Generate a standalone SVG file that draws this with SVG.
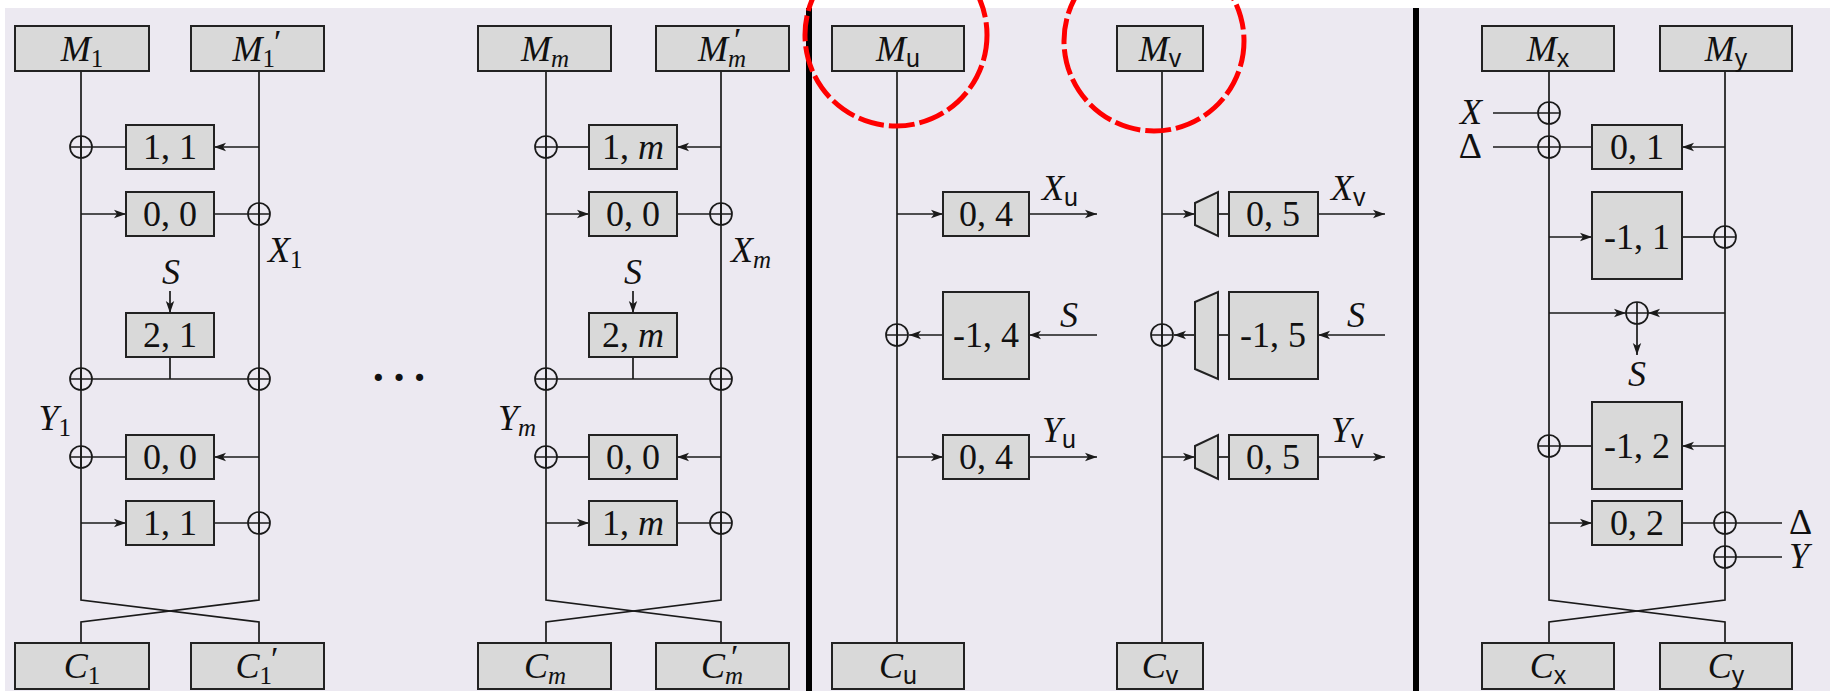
<svg xmlns="http://www.w3.org/2000/svg" width="1830" height="691" viewBox="0 0 1830 691">
<style>
.box{fill:#D9D9D9;stroke:#222;stroke-width:2}
.ln{fill:none;stroke:#1a1a1a;stroke-width:1.7}
.ar{fill:none;stroke:#1a1a1a;stroke-width:1.7;marker-end:url(#arr)}
.xo{fill:none;stroke:#1a1a1a;stroke-width:1.7}
.trap{fill:#D9D9D9;stroke:#222;stroke-width:2}
.t{font-family:"Liberation Serif","DejaVu Serif",serif;font-size:36px;fill:#111}
.m{text-anchor:middle}
.e{text-anchor:end}
.it{font-style:italic}
.sub{font-size:25px}
.pr{font-size:34px}
.sf{font-family:"Liberation Sans","DejaVu Sans",sans-serif;font-style:normal}
.sep{fill:#000}
.red{fill:none;stroke:#FF0000;stroke-width:5;stroke-dasharray:26 5}
</style>
<defs>
<marker id="arr" viewBox="0 0 12 10" refX="12" refY="5" markerWidth="12" markerHeight="10" markerUnits="userSpaceOnUse" orient="auto">
<path d="M0,0.8 L12,5 L0,9.2 L3,5 z" fill="#1a1a1a"/>
</marker>
<g id="xor"><circle r="11" class="xo"/><path class="xo" d="M-11,0H11M0,-11V11"/></g>
</defs>
<rect x="5" y="8" width="1825" height="683" fill="#ECE9F1"/>

<!-- separators -->
<rect class="sep" x="806" y="8" width="6" height="683"/>
<rect class="sep" x="1413" y="8" width="6" height="683"/>

<!-- connectors -->
<g id="connectors">
<!-- panel 1 -->
<path class="ln" d="M81,71 V600 L259,622 V643"/>
<path class="ln" d="M259,71 V600 L81,622 V643"/>
<path class="ln" d="M92,147 H126"/>
<path class="ar" d="M259,147 H214"/>
<path class="ar" d="M81,214 H126"/>
<path class="ln" d="M214,214 H248"/>
<path class="ar" d="M170,291 V313"/>
<path class="ln" d="M170,357 V379 M92,379 H248"/>
<path class="ln" d="M92,457 H126"/>
<path class="ar" d="M259,457 H214"/>
<path class="ar" d="M81,523 H126"/>
<path class="ln" d="M214,523 H248"/>
<!-- panel 2 -->
<path class="ln" d="M546,71 V600 L721,622 V643"/>
<path class="ln" d="M721,71 V600 L546,622 V643"/>
<path class="ln" d="M557,147 H589"/>
<path class="ar" d="M721,147 H677"/>
<path class="ar" d="M546,214 H589"/>
<path class="ln" d="M677,214 H710"/>
<path class="ar" d="M633,291 V313"/>
<path class="ln" d="M633,357 V379 M557,379 H710"/>
<path class="ln" d="M557,457 H589"/>
<path class="ar" d="M721,457 H677"/>
<path class="ar" d="M546,523 H589"/>
<path class="ln" d="M677,523 H710"/>
<!-- panel 3 -->
<path class="ln" d="M897,71 V643"/>
<path class="ln" d="M1162,71 V643"/>
<path class="ar" d="M897,214 H943"/>
<path class="ar" d="M1029,214 H1097"/>
<path class="ar" d="M943,335 H909"/>
<path class="ar" d="M1097,335 H1029"/>
<path class="ar" d="M897,457 H943"/>
<path class="ar" d="M1029,457 H1097"/>
<path class="ar" d="M1162,214 H1195"/>
<path class="ln" d="M1218,214 H1229"/>
<path class="ar" d="M1318,214 H1385"/>
<path class="ar" d="M1195,335 H1174"/>
<path class="ln" d="M1218,335 H1229"/>
<path class="ar" d="M1385,335 H1318"/>
<path class="ar" d="M1162,457 H1195"/>
<path class="ln" d="M1218,457 H1229"/>
<path class="ar" d="M1318,457 H1385"/>
<!-- panel 4 -->
<path class="ln" d="M1549,71 V600 L1725,622 V643"/>
<path class="ln" d="M1725,71 V600 L1549,622 V643"/>
<path class="ln" d="M1493,113 H1538"/>
<path class="ln" d="M1493,147 H1538 M1560,147 H1592"/>
<path class="ar" d="M1725,147 H1682"/>
<path class="ar" d="M1549,237 H1592"/>
<path class="ln" d="M1682,237 H1714"/>
<path class="ar" d="M1549,313 H1626"/>
<path class="ar" d="M1725,313 H1648"/>
<path class="ar" d="M1637,324 V355"/>
<path class="ln" d="M1560,446 H1592"/>
<path class="ar" d="M1725,446 H1682"/>
<path class="ar" d="M1549,523 H1592"/>
<path class="ln" d="M1682,523 H1714 M1736,523 H1782"/>
<path class="ln" d="M1736,557 H1782"/>
</g>

<!-- XOR nodes -->
<g id="xors">
<use href="#xor" x="81" y="147"/>
<use href="#xor" x="259" y="214"/>
<use href="#xor" x="81" y="379"/>
<use href="#xor" x="259" y="379"/>
<use href="#xor" x="81" y="457"/>
<use href="#xor" x="259" y="523"/>
<use href="#xor" x="546" y="147"/>
<use href="#xor" x="721" y="214"/>
<use href="#xor" x="546" y="379"/>
<use href="#xor" x="721" y="379"/>
<use href="#xor" x="546" y="457"/>
<use href="#xor" x="721" y="523"/>
<use href="#xor" x="897" y="335"/>
<use href="#xor" x="1162" y="335"/>
<use href="#xor" x="1549" y="113"/>
<use href="#xor" x="1549" y="147"/>
<use href="#xor" x="1725" y="237"/>
<use href="#xor" x="1637" y="313"/>
<use href="#xor" x="1549" y="446"/>
<use href="#xor" x="1725" y="523"/>
<use href="#xor" x="1725" y="557"/>
</g>

<!-- Panel 1 nodes -->
<g id="M1"><rect class="box" x="15" y="26" width="134" height="45"/><text class="t m" x="82" y="61"><tspan class="it">M</tspan><tspan class="sub" dy="6">1</tspan></text></g>
<g id="M1p"><rect class="box" x="191" y="26" width="133" height="45"/><text class="t m" x="257" y="61"><tspan class="it">M</tspan><tspan class="sub" dy="6">1</tspan><tspan class="pr" dx="-1" dy="-14">′</tspan></text></g>
<g id="b1_11a"><rect class="box" x="126" y="125" width="88" height="44"/><text class="t m" x="170" y="159">1, 1</text></g>
<g id="b1_00a"><rect class="box" x="126" y="192" width="88" height="44"/><text class="t m" x="170" y="226">0, 0</text></g>
<g id="b1_21"><rect class="box" x="126" y="313" width="88" height="44"/><text class="t m" x="170" y="347">2, 1</text></g>
<g id="b1_00b"><rect class="box" x="126" y="435" width="88" height="44"/><text class="t m" x="170" y="469">0, 0</text></g>
<g id="b1_11b"><rect class="box" x="126" y="501" width="88" height="44"/><text class="t m" x="170" y="535">1, 1</text></g>
<g id="C1"><rect class="box" x="15" y="643" width="134" height="46"/><text class="t m" x="82" y="678"><tspan class="it">C</tspan><tspan class="sub" dy="6">1</tspan></text></g>
<g id="C1p"><rect class="box" x="191" y="643" width="133" height="46"/><text class="t m" x="257" y="678"><tspan class="it">C</tspan><tspan class="sub" dy="6">1</tspan><tspan class="pr" dx="-1" dy="-14">′</tspan></text></g>
<g id="labels1">
<text class="t m it" x="171" y="284">S</text>
<text class="t" x="268" y="262"><tspan class="it">X</tspan><tspan class="sub" dy="6">1</tspan></text>
<text class="t e" x="71" y="430"><tspan class="it">Y</tspan><tspan class="sub" dy="6">1</tspan></text>
</g>
<g id="dots"><text class="t m" x="402" y="392" style="font-size:44px;font-weight:bold;letter-spacing:6px">···</text></g>

<!-- Panel 2 nodes -->
<g id="Mm"><rect class="box" x="478" y="26" width="133" height="45"/><text class="t m" x="545" y="61"><tspan class="it">M</tspan><tspan class="sub it" dy="6">m</tspan></text></g>
<g id="Mmp"><rect class="box" x="656" y="26" width="133" height="45"/><text class="t m" x="722" y="61"><tspan class="it">M</tspan><tspan class="sub it" dy="6">m</tspan><tspan class="pr" dx="-12" dy="-16">′</tspan></text></g>
<g id="b2_1ma"><rect class="box" x="589" y="125" width="88" height="44"/><text class="t m" x="633" y="159">1, <tspan class="it">m</tspan></text></g>
<g id="b2_00a"><rect class="box" x="589" y="192" width="88" height="44"/><text class="t m" x="633" y="226">0, 0</text></g>
<g id="b2_2m"><rect class="box" x="589" y="313" width="88" height="44"/><text class="t m" x="633" y="347">2, <tspan class="it">m</tspan></text></g>
<g id="b2_00b"><rect class="box" x="589" y="435" width="88" height="44"/><text class="t m" x="633" y="469">0, 0</text></g>
<g id="b2_1mb"><rect class="box" x="589" y="501" width="88" height="44"/><text class="t m" x="633" y="535">1, <tspan class="it">m</tspan></text></g>
<g id="Cm"><rect class="box" x="478" y="643" width="133" height="46"/><text class="t m" x="545" y="678"><tspan class="it">C</tspan><tspan class="sub it" dy="6">m</tspan></text></g>
<g id="Cmp"><rect class="box" x="656" y="643" width="133" height="46"/><text class="t m" x="722" y="678"><tspan class="it">C</tspan><tspan class="sub it" dy="6">m</tspan><tspan class="pr" dx="-12" dy="-16">′</tspan></text></g>
<g id="labels2">
<text class="t m it" x="633" y="284">S</text>
<text class="t" x="731" y="262"><tspan class="it">X</tspan><tspan class="sub it" dy="6">m</tspan></text>
<text class="t e" x="536" y="430"><tspan class="it">Y</tspan><tspan class="sub it" dy="6">m</tspan></text>
</g>

<!-- Panel 3 nodes -->
<g id="Mu"><rect class="box" x="832" y="26" width="132" height="45"/><text class="t m" x="898" y="61"><tspan class="it">M</tspan><tspan class="sub sf" dy="6">u</tspan></text></g>
<g id="Mv"><rect class="box" x="1117" y="26" width="86" height="45"/><text class="t m" x="1160" y="61"><tspan class="it">M</tspan><tspan class="sub sf" dy="6">v</tspan></text></g>
<g id="b3_04a"><rect class="box" x="943" y="192" width="86" height="44"/><text class="t m" x="986" y="226">0, 4</text></g>
<g id="b3_m14"><rect class="box" x="943" y="292" width="86" height="87"/><text class="t m" x="986" y="347">-1, 4</text></g>
<g id="b3_04b"><rect class="box" x="943" y="435" width="86" height="44"/><text class="t m" x="986" y="469">0, 4</text></g>
<g id="tr1"><polygon class="trap" points="1195,203 1218,192 1218,236 1195,225"/></g>
<g id="tr2"><polygon class="trap" points="1195,302 1218,292 1218,379 1195,369"/></g>
<g id="tr3"><polygon class="trap" points="1195,446 1218,435 1218,479 1195,468"/></g>
<g id="b3_05a"><rect class="box" x="1229" y="192" width="89" height="44"/><text class="t m" x="1273" y="226">0, 5</text></g>
<g id="b3_m15"><rect class="box" x="1229" y="292" width="89" height="87"/><text class="t m" x="1273" y="347">-1, 5</text></g>
<g id="b3_05b"><rect class="box" x="1229" y="435" width="89" height="44"/><text class="t m" x="1273" y="469">0, 5</text></g>
<g id="Cu"><rect class="box" x="832" y="643" width="132" height="46"/><text class="t m" x="898" y="678"><tspan class="it">C</tspan><tspan class="sub sf" dy="6">u</tspan></text></g>
<g id="Cv"><rect class="box" x="1117" y="643" width="86" height="46"/><text class="t m" x="1160" y="678"><tspan class="it">C</tspan><tspan class="sub sf" dy="6">v</tspan></text></g>
<g id="labels3">
<text class="t" x="1042" y="200"><tspan class="it">X</tspan><tspan class="sub sf" dy="6">u</tspan></text>
<text class="t m it" x="1069" y="327">S</text>
<text class="t" x="1042" y="442"><tspan class="it">Y</tspan><tspan class="sub sf" dy="6">u</tspan></text>
<text class="t" x="1331" y="200"><tspan class="it">X</tspan><tspan class="sub sf" dy="6">v</tspan></text>
<text class="t m it" x="1356" y="327">S</text>
<text class="t" x="1331" y="442"><tspan class="it">Y</tspan><tspan class="sub sf" dy="6">v</tspan></text>
</g>

<!-- Panel 4 nodes -->
<g id="Mx"><rect class="box" x="1482" y="26" width="132" height="45"/><text class="t m" x="1548" y="61"><tspan class="it">M</tspan><tspan class="sub sf" dy="6">x</tspan></text></g>
<g id="My"><rect class="box" x="1660" y="26" width="132" height="45"/><text class="t m" x="1726" y="61"><tspan class="it">M</tspan><tspan class="sub sf" dy="6">y</tspan></text></g>
<g id="b4_01"><rect class="box" x="1592" y="125" width="90" height="44"/><text class="t m" x="1637" y="159">0, 1</text></g>
<g id="b4_m11"><rect class="box" x="1592" y="192" width="90" height="87"/><text class="t m" x="1637" y="249">-1, 1</text></g>
<g id="b4_m12"><rect class="box" x="1592" y="402" width="90" height="87"/><text class="t m" x="1637" y="458">-1, 2</text></g>
<g id="b4_02"><rect class="box" x="1592" y="501" width="90" height="44"/><text class="t m" x="1637" y="535">0, 2</text></g>
<g id="Cx"><rect class="box" x="1482" y="643" width="132" height="46"/><text class="t m" x="1548" y="678"><tspan class="it">C</tspan><tspan class="sub sf" dy="6">x</tspan></text></g>
<g id="Cy"><rect class="box" x="1660" y="643" width="132" height="46"/><text class="t m" x="1726" y="678"><tspan class="it">C</tspan><tspan class="sub sf" dy="6">y</tspan></text></g>
<g id="labels4">
<text class="t e it" x="1482" y="124">X</text>
<text class="t e" x="1482" y="158">Δ</text>
<text class="t m it" x="1637" y="386">S</text>
<text class="t" x="1789" y="534">Δ</text>
<text class="t it" x="1789" y="568">Y</text>
</g>

<!-- highlight circles -->
<g id="highlights">
<circle class="red" cx="896" cy="35" r="91"/>
<circle class="red" cx="1154" cy="41" r="90"/>
</g>
</svg>
